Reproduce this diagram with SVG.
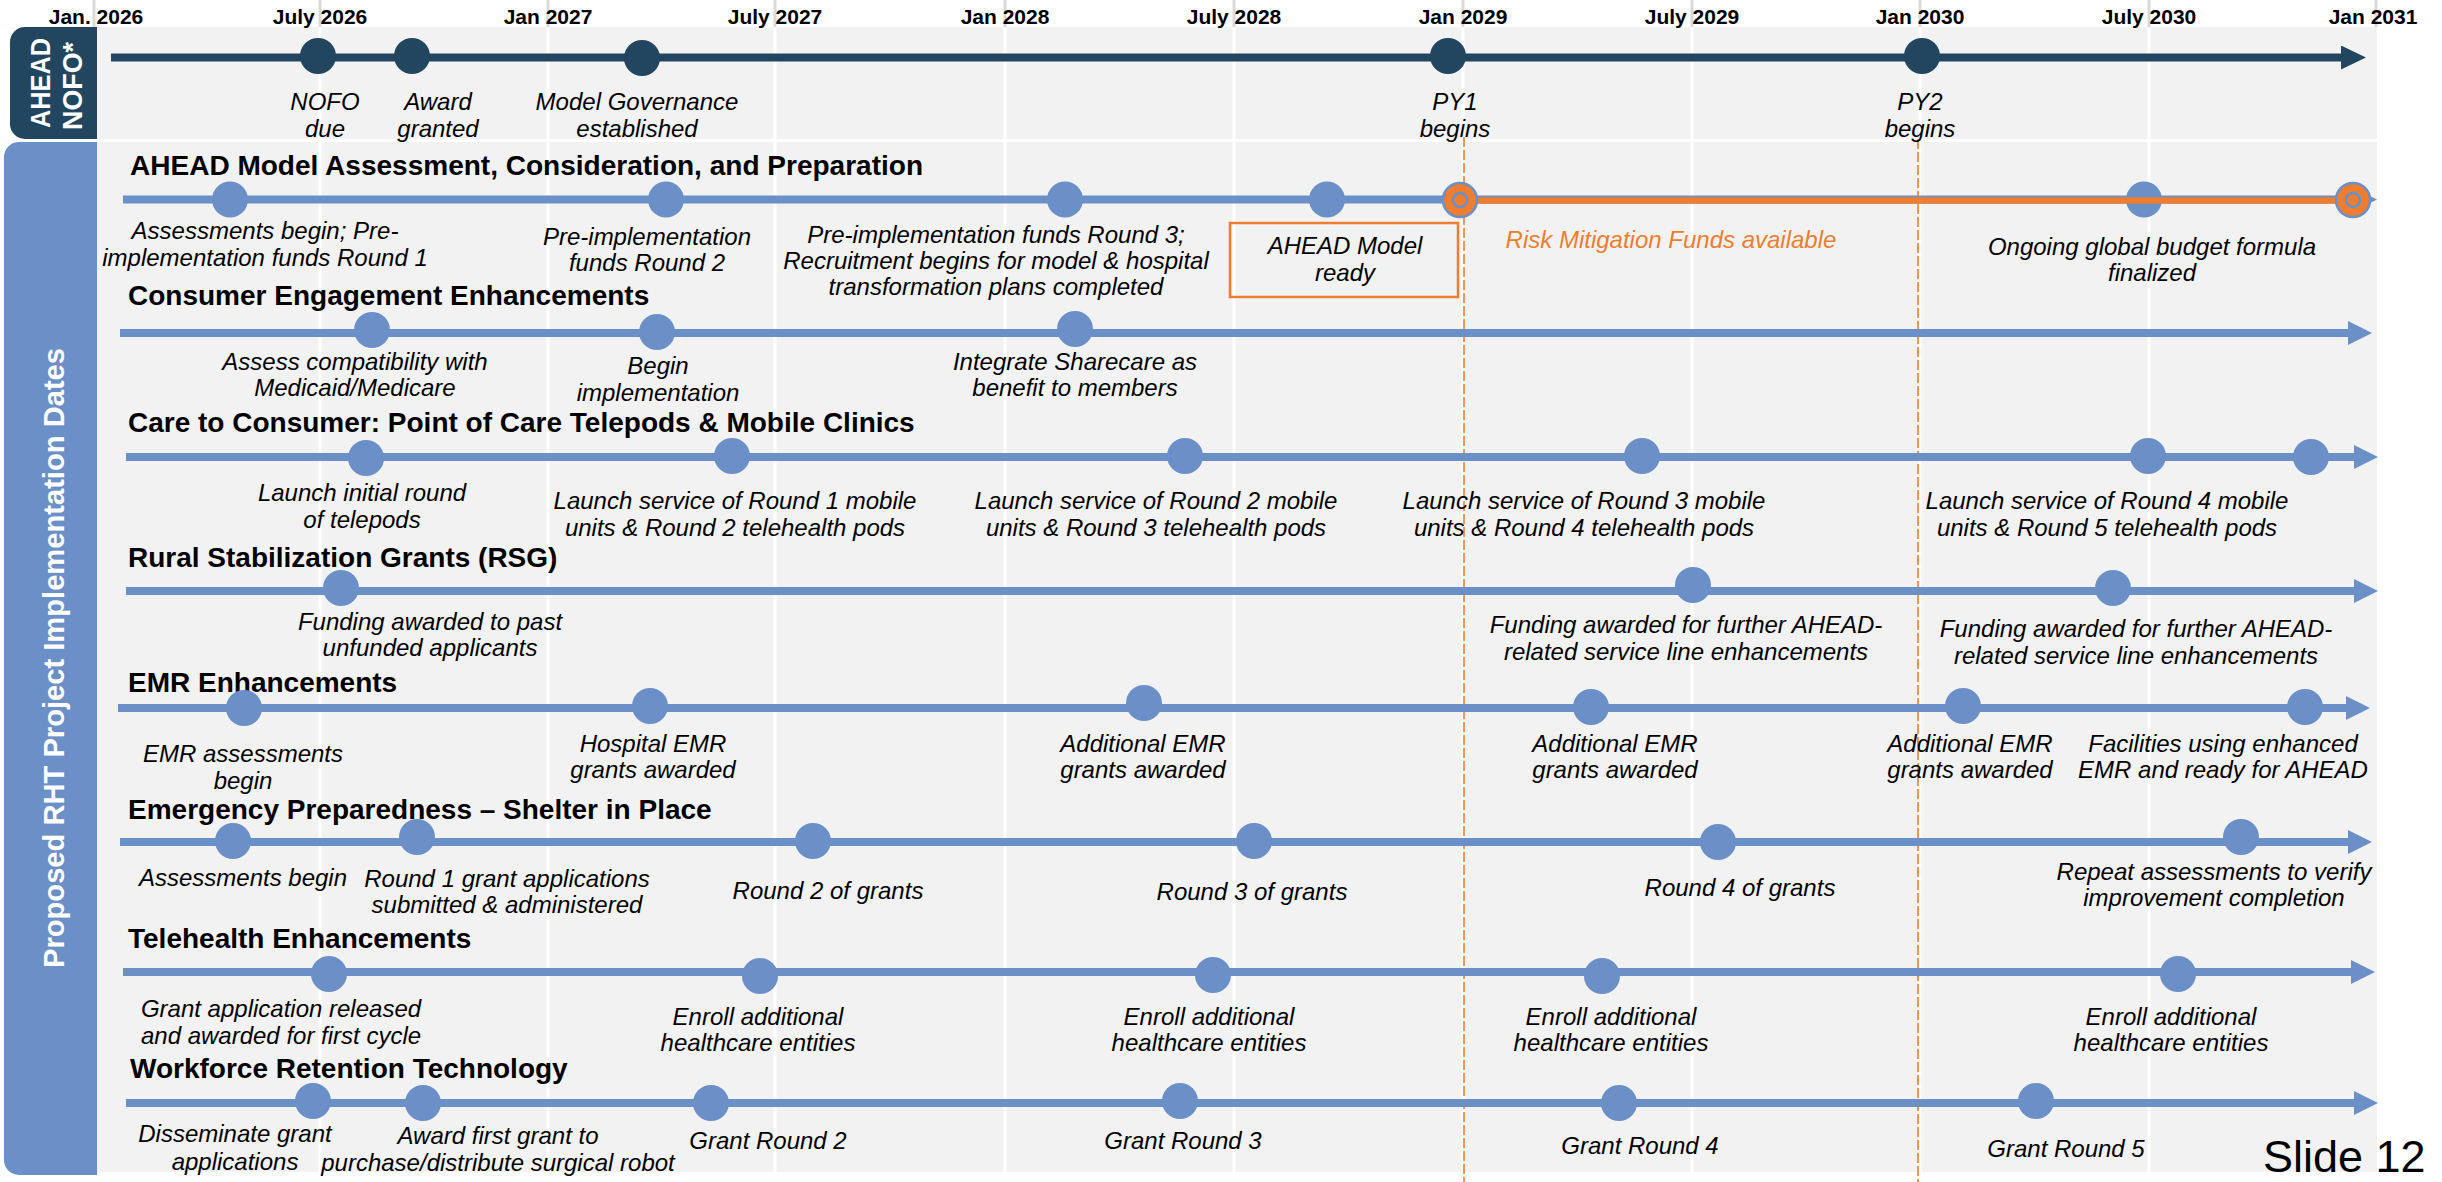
<svg xmlns="http://www.w3.org/2000/svg" width="2442" height="1182" viewBox="0 0 2442 1182">
<style>
.lbl{font-family:"Liberation Sans",Arial,sans-serif;font-style:italic;font-size:24px;fill:#000;text-anchor:middle}
.hd{font-family:"Liberation Sans",Arial,sans-serif;font-weight:bold;font-size:28px;fill:#000}
.dt{font-family:"Liberation Sans",Arial,sans-serif;font-weight:bold;font-size:21px;fill:#000;text-anchor:middle}
.side{font-family:"Liberation Sans",Arial,sans-serif;font-weight:bold;fill:#fff;text-anchor:middle}
.dot{fill:#6B8FC7}
.ndot{fill:#22465F}
.row{stroke:#6B8FC7;stroke-width:8;fill:none}
.gw{stroke:#fff;stroke-width:3}
.gg{stroke:#D9D9D9;stroke-width:3}
.dash{stroke:#ED7D31;stroke-width:1.6;stroke-dasharray:10 3;fill:none}
.ring{fill:#ED7D31;stroke:#6B8FC7;stroke-width:2.5}
</style>
<defs>
<marker id="arrB" viewBox="0 0 24 24" refX="2" refY="12" markerWidth="24" markerHeight="24" markerUnits="userSpaceOnUse" orient="auto"><path d="M0,0 L24,12 L0,24 Z" fill="#6B8FC7"/></marker>
<marker id="arrN" viewBox="0 0 25 24" refX="2" refY="12" markerWidth="25" markerHeight="24" markerUnits="userSpaceOnUse" orient="auto"><path d="M0,0 L25,12 L0,24 Z" fill="#22465F"/></marker>
</defs>
<rect x="0" y="0" width="2442" height="1182" fill="#fff"/>
<g id="grid-top">
<line class="gg" x1="94" y1="0" x2="94" y2="27"/><line class="gg" x1="320" y1="0" x2="320" y2="27"/><line class="gg" x1="548" y1="0" x2="548" y2="27"/><line class="gg" x1="775" y1="0" x2="775" y2="27"/><line class="gg" x1="1005" y1="0" x2="1005" y2="27"/><line class="gg" x1="1234" y1="0" x2="1234" y2="27"/><line class="gg" x1="1463" y1="0" x2="1463" y2="27"/><line class="gg" x1="1692" y1="0" x2="1692" y2="27"/><line class="gg" x1="1920" y1="0" x2="1920" y2="27"/><line class="gg" x1="2149" y1="0" x2="2149" y2="27"/><line class="gg" x1="2376" y1="0" x2="2376" y2="27"/>
</g>
<g id="panels">
<rect x="97" y="27" width="2280" height="112" fill="#F2F2F2"/>
<rect x="97" y="142" width="2280" height="1030" fill="#F2F2F2"/>
</g>
<g id="grid-panel">
<line class="gw" x1="320" y1="27" x2="320" y2="1172"/><line class="gw" x1="548" y1="27" x2="548" y2="1172"/><line class="gw" x1="775" y1="27" x2="775" y2="1172"/><line class="gw" x1="1005" y1="27" x2="1005" y2="1172"/><line class="gw" x1="1234" y1="27" x2="1234" y2="1172"/><line class="gw" x1="1463" y1="27" x2="1463" y2="1172"/><line class="gw" x1="1692" y1="27" x2="1692" y2="1172"/><line class="gw" x1="1920" y1="27" x2="1920" y2="1172"/><line class="gw" x1="2149" y1="27" x2="2149" y2="1172"/>
</g>
<g id="dates">
<text class="dt" x="96" y="24">Jan. 2026</text><text class="dt" x="320" y="24">July 2026</text><text class="dt" x="548" y="24">Jan 2027</text><text class="dt" x="775" y="24">July 2027</text><text class="dt" x="1005" y="24">Jan 2028</text><text class="dt" x="1234" y="24">July 2028</text><text class="dt" x="1463" y="24">Jan 2029</text><text class="dt" x="1692" y="24">July 2029</text><text class="dt" x="1920" y="24">Jan 2030</text><text class="dt" x="2149" y="24">July 2030</text><text class="dt" x="2373" y="24">Jan 2031</text>
</g>
<g id="side-ahead">
<path d="M25,27 H97 V139 H25 A15,15 0 0 1 10,124 V42 A15,15 0 0 1 25,27 Z" fill="#22465F"/>
<text class="side" font-size="27" transform="translate(50,83) rotate(-90)" textLength="90" lengthAdjust="spacingAndGlyphs">AHEAD</text>
<text class="side" font-size="27" transform="translate(82,86) rotate(-90)" textLength="88" lengthAdjust="spacingAndGlyphs">NOFO*</text>
</g>
<g id="side-rht">
<path d="M19,142 H97 V1175 H19 A15,15 0 0 1 4,1160 V157 A15,15 0 0 1 19,142 Z" fill="#6B8FC7"/>
<text class="side" font-size="29" transform="translate(64,658) rotate(-90)" textLength="620" lengthAdjust="spacingAndGlyphs">Proposed RHT Project Implementation Dates</text>
</g>
<g id="py-lines">
<line class="dash" x1="1464" y1="137" x2="1464" y2="1182"/>
<line class="dash" x1="1918" y1="139" x2="1918" y2="1182"/>
</g>
<g id="connectors">
<line x1="111" y1="57.5" x2="2343" y2="57.5" stroke="#22465F" stroke-width="8" marker-end="url(#arrN)"/>
<line class="row" x1="123" y1="199.5" x2="2355" y2="199.5" marker-end="url(#arrB)"/>
<line class="row" x1="120" y1="333" x2="2350" y2="333" marker-end="url(#arrB)"/>
<line class="row" x1="126" y1="457" x2="2356" y2="457" marker-end="url(#arrB)"/>
<line class="row" x1="126" y1="591" x2="2356" y2="591" marker-end="url(#arrB)"/>
<line class="row" x1="118" y1="708" x2="2348" y2="708" marker-end="url(#arrB)"/>
<line class="row" x1="120" y1="842" x2="2350" y2="842" marker-end="url(#arrB)"/>
<line class="row" x1="123" y1="972" x2="2353" y2="972" marker-end="url(#arrB)"/>
<line class="row" x1="126" y1="1103" x2="2356" y2="1103" marker-end="url(#arrB)"/>
</g>
<g id="ahead-nofo">
<g id="n-nofo"><circle class="ndot" cx="318" cy="56" r="18"/><text class="lbl" x="325" y="110">NOFO<tspan x="325" dy="27">due</tspan></text></g>
<g id="n-award"><circle class="ndot" cx="412" cy="56" r="18"/><text class="lbl" x="438" y="110">Award<tspan x="438" dy="27">granted</tspan></text></g>
<g id="n-gov"><circle class="ndot" cx="642" cy="58" r="18"/><text class="lbl" x="637" y="110">Model Governance<tspan x="637" dy="27">established</tspan></text></g>
<g id="n-py1"><circle class="ndot" cx="1448" cy="56" r="18"/><text class="lbl" x="1455" y="110">PY1<tspan x="1455" dy="27">begins</tspan></text></g>
<g id="n-py2"><circle class="ndot" cx="1922" cy="56" r="18"/><text class="lbl" x="1920" y="110">PY2<tspan x="1920" dy="27">begins</tspan></text></g>
</g>
<g id="row1">
<text class="hd" x="130" y="175" textLength="793" lengthAdjust="spacingAndGlyphs">AHEAD Model Assessment, Consideration, and Preparation</text>
<g id="r1-a"><circle class="dot" cx="230" cy="199.5" r="18"/><text class="lbl" x="265" y="239">Assessments begin; Pre-<tspan x="265" dy="27">implementation funds Round 1</tspan></text></g>
<g id="r1-b"><circle class="dot" cx="666" cy="199.5" r="18"/><text class="lbl" x="647" y="245">Pre-implementation<tspan x="647" dy="26">funds Round 2</tspan></text></g>
<g id="r1-c"><circle class="dot" cx="1065" cy="199.5" r="18"/><text class="lbl" x="996" y="243">Pre-implementation funds Round 3;<tspan x="996" dy="26">Recruitment begins for model &amp; hospital</tspan><tspan x="996" dy="26">transformation plans completed</tspan></text></g>
<g id="r1-d"><circle class="dot" cx="1327" cy="199.5" r="18"/><rect x="1230" y="223" width="228" height="74" fill="none" stroke="#ED7D31" stroke-width="2.5"/><text class="lbl" x="1345" y="254">AHEAD Model<tspan x="1345" dy="27">ready</tspan></text></g>
<g id="r1-f"><circle class="dot" cx="2144" cy="199.5" r="18"/><text class="lbl" x="2152" y="255">Ongoing global budget formula<tspan x="2152" dy="26">finalized</tspan></text></g>
<line id="risk-line" x1="1460" y1="200.5" x2="2353" y2="200.5" stroke="#ED7D31" stroke-width="6.5"/>
<g id="r1-e"><circle class="ring" cx="1460" cy="200" r="17"/><circle cx="1460" cy="200" r="7" fill="#ED7D31" stroke="#6B8FC7" stroke-width="2.5"/><text class="lbl" x="1671" y="248" style="fill:#ED7D31">Risk Mitigation Funds available</text></g>
<g id="r1-g"><circle class="ring" cx="2353" cy="200" r="17"/><circle cx="2353" cy="200" r="7" fill="#ED7D31" stroke="#6B8FC7" stroke-width="2.5"/></g>
</g>
<g id="row2">
<text class="hd" x="128" y="305">Consumer Engagement Enhancements</text>
<g id="r2-a"><circle class="dot" cx="372" cy="330" r="18"/><text class="lbl" x="355" y="370">Assess compatibility with<tspan x="355" dy="26">Medicaid/Medicare</tspan></text></g>
<g id="r2-b"><circle class="dot" cx="657" cy="332" r="18"/><text class="lbl" x="658" y="374">Begin<tspan x="658" dy="27">implementation</tspan></text></g>
<g id="r2-c"><circle class="dot" cx="1075" cy="329" r="18"/><text class="lbl" x="1075" y="370">Integrate Sharecare as<tspan x="1075" dy="26">benefit to members</tspan></text></g>
</g>
<g id="row3">
<text class="hd" x="128" y="432">Care to Consumer: Point of Care Telepods &amp; Mobile Clinics</text>
<g id="r3-a"><circle class="dot" cx="366" cy="458" r="18"/><text class="lbl" x="362" y="501">Launch initial round<tspan x="362" dy="27">of telepods</tspan></text></g>
<g id="r3-b"><circle class="dot" cx="732" cy="456" r="18"/><text class="lbl" x="735" y="509">Launch service of Round 1 mobile<tspan x="735" dy="27">units &amp; Round 2 telehealth pods</tspan></text></g>
<g id="r3-c"><circle class="dot" cx="1185" cy="456" r="18"/><text class="lbl" x="1156" y="509">Launch service of Round 2 mobile<tspan x="1156" dy="27">units &amp; Round 3 telehealth pods</tspan></text></g>
<g id="r3-d"><circle class="dot" cx="1642" cy="456" r="18"/><text class="lbl" x="1584" y="509">Launch service of Round 3 mobile<tspan x="1584" dy="27">units &amp; Round 4 telehealth pods</tspan></text></g>
<g id="r3-e"><circle class="dot" cx="2148" cy="456" r="18"/><text class="lbl" x="2107" y="509">Launch service of Round 4 mobile<tspan x="2107" dy="27">units &amp; Round 5 telehealth pods</tspan></text></g>
<g id="r3-f"><circle class="dot" cx="2311" cy="457" r="18"/></g>
</g>
<g id="row4">
<text class="hd" x="128" y="567">Rural Stabilization Grants (RSG)</text>
<g id="r4-a"><circle class="dot" cx="341" cy="588" r="18"/><text class="lbl" x="430" y="630">Funding awarded to past<tspan x="430" dy="26">unfunded applicants</tspan></text></g>
<g id="r4-b"><circle class="dot" cx="1693" cy="585" r="18"/><text class="lbl" x="1686" y="633">Funding awarded for further AHEAD-<tspan x="1686" dy="27">related service line enhancements</tspan></text></g>
<g id="r4-c"><circle class="dot" cx="2113" cy="588" r="18"/><text class="lbl" x="2136" y="637">Funding awarded for further AHEAD-<tspan x="2136" dy="27">related service line enhancements</tspan></text></g>
</g>
<g id="row5">
<text class="hd" x="128" y="692">EMR Enhancements</text>
<g id="r5-a"><circle class="dot" cx="244" cy="708" r="18"/><text class="lbl" x="243" y="762">EMR assessments<tspan x="243" dy="27">begin</tspan></text></g>
<g id="r5-b"><circle class="dot" cx="650" cy="706" r="18"/><text class="lbl" x="653" y="752">Hospital EMR<tspan x="653" dy="26">grants awarded</tspan></text></g>
<g id="r5-c"><circle class="dot" cx="1144" cy="703" r="18"/><text class="lbl" x="1143" y="752">Additional EMR<tspan x="1143" dy="26">grants awarded</tspan></text></g>
<g id="r5-d"><circle class="dot" cx="1591" cy="707" r="18"/><text class="lbl" x="1615" y="752">Additional EMR<tspan x="1615" dy="26">grants awarded</tspan></text></g>
<g id="r5-e"><circle class="dot" cx="1963" cy="706" r="18"/><text class="lbl" x="1970" y="752">Additional EMR<tspan x="1970" dy="26">grants awarded</tspan></text></g>
<g id="r5-f"><circle class="dot" cx="2305" cy="707" r="18"/><text class="lbl" x="2223" y="752">Facilities using enhanced<tspan x="2223" dy="26">EMR and ready for AHEAD</tspan></text></g>
</g>
<g id="row6">
<text class="hd" x="128" y="819">Emergency Preparedness – Shelter in Place</text>
<g id="r6-a"><circle class="dot" cx="233" cy="841" r="18"/><text class="lbl" x="243" y="886">Assessments begin</text></g>
<g id="r6-b"><circle class="dot" cx="417" cy="837" r="18"/><text class="lbl" x="507" y="887">Round 1 grant applications<tspan x="507" dy="26">submitted &amp; administered</tspan></text></g>
<g id="r6-c"><circle class="dot" cx="813" cy="841" r="18"/><text class="lbl" x="828" y="899">Round 2 of grants</text></g>
<g id="r6-d"><circle class="dot" cx="1254" cy="841" r="18"/><text class="lbl" x="1252" y="900">Round 3 of grants</text></g>
<g id="r6-e"><circle class="dot" cx="1718" cy="842" r="18"/><text class="lbl" x="1740" y="896">Round 4 of grants</text></g>
<g id="r6-f"><circle class="dot" cx="2241" cy="837" r="18"/><text class="lbl" x="2214" y="880">Repeat assessments to verify<tspan x="2214" dy="26">improvement completion</tspan></text></g>
</g>
<g id="row7">
<text class="hd" x="128" y="948">Telehealth Enhancements</text>
<g id="r7-a"><circle class="dot" cx="329" cy="974" r="18"/><text class="lbl" x="281" y="1017">Grant application released<tspan x="281" dy="27">and awarded for first cycle</tspan></text></g>
<g id="r7-b"><circle class="dot" cx="760" cy="976" r="18"/><text class="lbl" x="758" y="1025">Enroll additional<tspan x="758" dy="26">healthcare entities</tspan></text></g>
<g id="r7-c"><circle class="dot" cx="1213" cy="975" r="18"/><text class="lbl" x="1209" y="1025">Enroll additional<tspan x="1209" dy="26">healthcare entities</tspan></text></g>
<g id="r7-d"><circle class="dot" cx="1602" cy="976" r="18"/><text class="lbl" x="1611" y="1025">Enroll additional<tspan x="1611" dy="26">healthcare entities</tspan></text></g>
<g id="r7-e"><circle class="dot" cx="2178" cy="974" r="18"/><text class="lbl" x="2171" y="1025">Enroll additional<tspan x="2171" dy="26">healthcare entities</tspan></text></g>
</g>
<g id="row8">
<text class="hd" x="130" y="1078">Workforce Retention Technology</text>
<g id="r8-a"><circle class="dot" cx="313" cy="1101" r="18"/><text class="lbl" x="235" y="1142">Disseminate grant<tspan x="235" dy="28">applications</tspan></text></g>
<g id="r8-b"><circle class="dot" cx="423" cy="1103" r="18"/><text class="lbl" x="498" y="1144">Award first grant to<tspan x="498" dy="27">purchase/distribute surgical robot</tspan></text></g>
<g id="r8-c"><circle class="dot" cx="711" cy="1103" r="18"/><text class="lbl" x="768" y="1149">Grant Round 2</text></g>
<g id="r8-d"><circle class="dot" cx="1180" cy="1101" r="18"/><text class="lbl" x="1183" y="1149">Grant Round 3</text></g>
<g id="r8-e"><circle class="dot" cx="1619" cy="1103" r="18"/><text class="lbl" x="1640" y="1154">Grant Round 4</text></g>
<g id="r8-f"><circle class="dot" cx="2036" cy="1101" r="18"/><text class="lbl" x="2066" y="1157">Grant Round 5</text></g>
</g>
<text id="slide-no" x="2263" y="1172" font-family="'Liberation Sans',Arial,sans-serif" font-size="45" fill="#000">Slide 12</text>
</svg>
